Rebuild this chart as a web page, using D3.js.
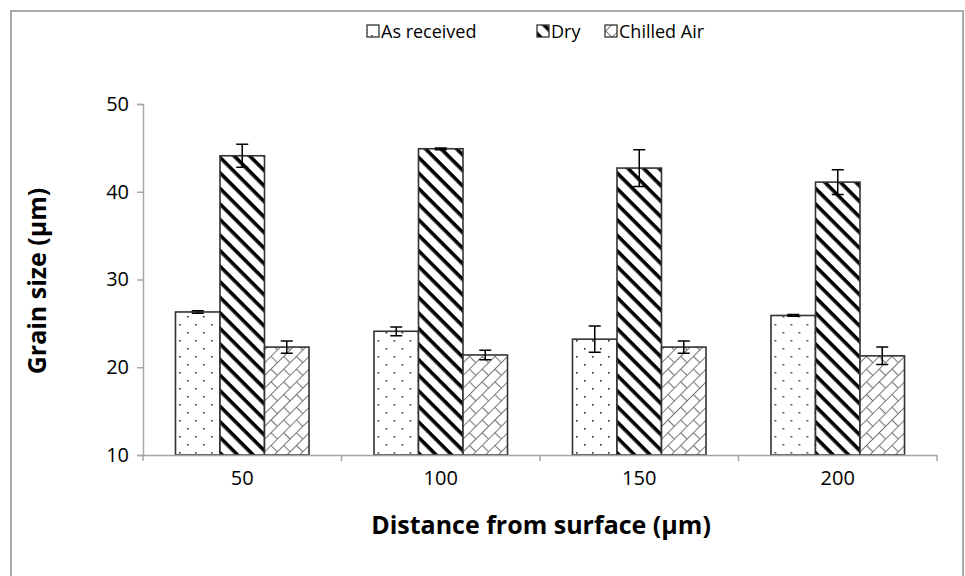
<!DOCTYPE html>
<html>
<head>
<meta charset="utf-8">
<script src="https://cdn.jsdelivr.net/npm/d3@7"></script>
<style>
  body { margin: 0; background: #fff; }
  text { font-family: "Open Sans", "Noto Sans", sans-serif; fill: #000; }
</style>
</head>
<body>
<svg width="965" height="576"></svg>
<script>
// chart data
const distances = ['50', '100', '150', '200'];
const seriesNames = ['As received', 'Dry', 'Chilled Air'];
const asReceived = [26.3, 24.1, 23.2, 25.9];
const dry = [44.1, 44.9, 42.7, 41.1];
const chilledAir = [22.3, 21.4, 22.3, 21.3];
const asReceivedErr = [0.15, 0.5, 1.5, 0.1];
const dryErr = [1.3, 0.1, 2.1, 1.4];
const chilledAirErr = [0.7, 0.55, 0.7, 1.0];
const yTicks = [10, 20, 30, 40, 50];

const values = [asReceived, dry, chilledAir];
const errors = [asReceivedErr, dryErr, chilledAirErr];
const patternIds = ['pat-dots', 'pat-stripes', 'pat-brick'];

const svg = d3.select('svg');

// outer chart border
svg.append('rect')
    .attr('x', 11).attr('y', 11)
    .attr('width', 952).attr('height', 590)
    .attr('fill', 'none')
    .attr('stroke', '#aaa')
    .attr('stroke-width', 2);

// patterns
const defs = svg.append('defs');

const dots = defs.append('pattern')
    .attr('id', 'pat-dots')
    .attr('patternUnits', 'userSpaceOnUse')
    .attr('width', 16).attr('height', 16);
dots.append('rect').attr('width', 16).attr('height', 16).attr('fill', '#fff');
[[4, 4], [12, 12]].forEach(p => {
    dots.append('rect').attr('x', p[0]).attr('y', p[1])
        .attr('width', 1.6).attr('height', 1.6).attr('fill', '#333');
});

const stripes = defs.append('pattern')
    .attr('id', 'pat-stripes')
    .attr('patternUnits', 'userSpaceOnUse')
    .attr('width', 11).attr('height', 11)
    .attr('patternTransform', 'rotate(45)');
stripes.append('rect').attr('width', 11).attr('height', 11).attr('fill', '#fff');
stripes.append('rect').attr('x', 0).attr('y', 0)
    .attr('width', 11).attr('height', 3.6).attr('fill', '#000');

const brick = defs.append('pattern')
    .attr('id', 'pat-brick')
    .attr('patternUnits', 'userSpaceOnUse')
    .attr('width', 18).attr('height', 18)
    .attr('patternTransform', 'rotate(-45)');
brick.append('rect').attr('width', 18).attr('height', 18).attr('fill', '#fff');
brick.append('path')
    .attr('d', 'M0,0.5H18M0,9.5H18M0.5,0V9.5M9.5,9V18')
    .attr('stroke', '#777')
    .attr('stroke-width', 1.1)
    .attr('fill', 'none');

// scales
const x0 = d3.scaleBand()
    .domain(distances)
    .range([143, 937]);

const x1 = d3.scaleBand()
    .domain(seriesNames)
    .range([0, x0.bandwidth()])
    .paddingOuter(0.73)
    .paddingInner(0);

const y = d3.scaleLinear()
    .domain([10, 50])
    .range([455, 104]);

// y axis
const yAxis = svg.append('g')
    .attr('transform', 'translate(143,0)')
    .call(d3.axisLeft(y).tickValues(yTicks).tickSize(6).tickPadding(8));
yAxis.select('.domain').attr('stroke', '#a6a6a6').attr('stroke-width', 1.5);
yAxis.selectAll('.tick line').attr('stroke', '#a6a6a6').attr('stroke-width', 1.5);
yAxis.selectAll('.tick text')
    .style('font-size', '20px')
    .style('font-family', '"Open Sans", sans-serif');

// bars
const groups = svg.append('g').selectAll('g')
    .data(distances)
    .join('g')
    .attr('transform', d => `translate(${x0(d)},0)`);

seriesNames.forEach((name, s) => {
    groups.append('rect')
        .attr('x', x1(name))
        .attr('y', (d, i) => y(values[s][i]))
        .attr('width', x1.bandwidth())
        .attr('height', (d, i) => y(10) - y(values[s][i]))
        .attr('fill', `url(#${patternIds[s]})`)
        .attr('stroke', '#333')
        .attr('stroke-width', 1.6);
});

// error bars
seriesNames.forEach((name, s) => {
    const cx = x1(name) + x1.bandwidth() / 2;
    const eb = groups.append('g').attr('class', 'err');
    eb.append('path')
        .attr('d', (d, i) => {
            const v = values[s][i], e = errors[s][i];
            const top = y(v + e), bot = y(v - e);
            return `M${cx},${top}V${bot}M${cx - 6},${top}H${cx + 6}M${cx - 6},${bot}H${cx + 6}`;
        })
        .attr('stroke', '#000')
        .attr('stroke-width', 1.5)
        .attr('fill', 'none');
});

// x axis
const xAxis = svg.append('g')
    .attr('transform', 'translate(0,455)')
    .call(d3.axisBottom(x0).tickSize(0).tickPadding(16));
xAxis.select('.domain').attr('stroke', '#a6a6a6').attr('stroke-width', 1.5);
xAxis.selectAll('.tick text')
    .style('font-size', '20px')
    .style('font-family', '"Open Sans", sans-serif');
// boundary ticks between categories
svg.append('g').selectAll('line')
    .data(distances.concat(['end']))
    .join('line')
    .attr('x1', (d, i) => 143 + i * x0.bandwidth())
    .attr('x2', (d, i) => 143 + i * x0.bandwidth())
    .attr('y1', 455).attr('y2', 461)
    .attr('stroke', '#a6a6a6')
    .attr('stroke-width', 1.5);

// axis titles
svg.append('text')
    .attr('x', 541).attr('y', 534)
    .attr('text-anchor', 'middle')
    .style('font-size', '25px')
    .style('font-weight', 'bold')
    .text('Distance from surface (µm)');

svg.append('text')
    .attr('transform', 'translate(46,281) rotate(-90)')
    .attr('text-anchor', 'middle')
    .style('font-size', '25px')
    .style('font-weight', 'bold')
    .text('Grain size (µm)');

// legend
const legendX = [367, 537, 605];
const legend = svg.append('g').selectAll('g')
    .data(seriesNames)
    .join('g')
    .attr('transform', (d, i) => `translate(${legendX[i]},31)`);
legend.append('rect')
    .attr('x', 0).attr('y', -6)
    .attr('width', 12).attr('height', 12)
    .attr('fill', (d, i) => `url(#${patternIds[i]})`)
    .attr('stroke', '#333')
    .attr('stroke-width', 1.3);
legend.append('text')
    .attr('x', 14).attr('y', 7)
    .style('font-size', '18px')
    .text(d => d);
</script>
</body>
</html>
